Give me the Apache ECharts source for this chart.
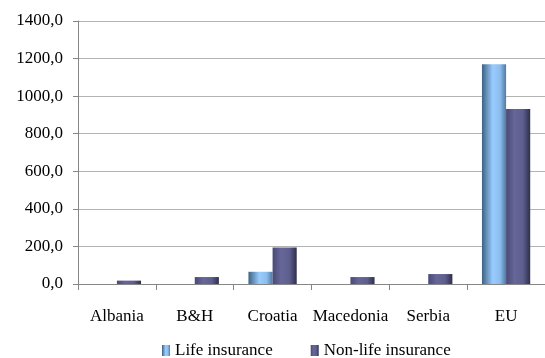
<!DOCTYPE html>
<html>
<head>
<meta charset="utf-8">
<script src="https://cdn.jsdelivr.net/npm/echarts@6/dist/echarts.min.js"></script>
<style>
  html, body { margin: 0; padding: 0; background: #fff; }
  #chart { width: 545px; height: 358px; }
</style>
</head>
<body>
<div id="chart"></div>
<script>
// Insurance premiums per capita by country
const categories = ['Albania', 'B&H', 'Croatia', 'Macedonia', 'Serbia', 'EU'];
const lifeInsurance = [0, 0, 65, 0, 0, 1170];
const nonLifeInsurance = [18, 37, 194, 37, 53, 932];
const seriesNames = ['Life insurance', 'Non-life insurance'];

const serifFamily = 'Liberation Serif';

const lifeFill = new echarts.graphic.LinearGradient(0, 0, 1, 0, [
  { offset: 0, color: '#3d6282' },
  { offset: 0.45, color: '#99ccff' },
  { offset: 0.75, color: '#8cbdee' },
  { offset: 1, color: '#4f7aa0' }
]);
const nonLifeFill = new echarts.graphic.LinearGradient(0, 0, 1, 0, [
  { offset: 0, color: '#4a4a78' },
  { offset: 0.35, color: '#666699' },
  { offset: 0.7, color: '#5e5e8e' },
  { offset: 1, color: '#2e2e4c' }
]);

const chart = echarts.init(document.getElementById('chart'));
chart.setOption({
  animation: false,
  textStyle: { fontFamily: serifFamily },
  grid: { left: 78, right: -4, top: 21, bottom: 74, containLabel: false },
  legend: {
    top: 337,
    left: 157,
    itemWidth: 8,
    itemHeight: 11,
    itemGap: 38,
    icon: 'rect',
    textStyle: { fontFamily: serifFamily, fontSize: 17, color: '#000' },
    data: seriesNames
  },
  xAxis: {
    type: 'category',
    data: categories,
    axisLine: { lineStyle: { color: '#868686' } },
    axisTick: { show: true, length: 6, lineStyle: { color: '#868686' } },
    axisLabel: { fontFamily: serifFamily, fontSize: 17, color: '#000', margin: 24, interval: 0 }
  },
  yAxis: {
    type: 'value',
    min: 0,
    max: 1400,
    interval: 200,
    axisLine: { show: true, lineStyle: { color: '#868686' } },
    axisTick: { show: true, length: 5, inside: false, lineStyle: { color: '#868686' } },
    axisLabel: {
      fontFamily: serifFamily, fontSize: 17, color: '#000', margin: 15,
      formatter: v => v.toFixed(1).replace('.', ',')
    },
    splitLine: { lineStyle: { color: '#b3b3b3' } }
  },
  series: [
    {
      name: seriesNames[0],
      type: 'bar',
      data: lifeInsurance,
      barGap: '0%',
      barCategoryGap: '38%',
      itemStyle: { color: lifeFill }
    },
    {
      name: seriesNames[1],
      type: 'bar',
      data: nonLifeInsurance,
      barGap: '0%',
      barCategoryGap: '38%',
      itemStyle: { color: nonLifeFill }
    }
  ]
});
</script>
</body>
</html>
